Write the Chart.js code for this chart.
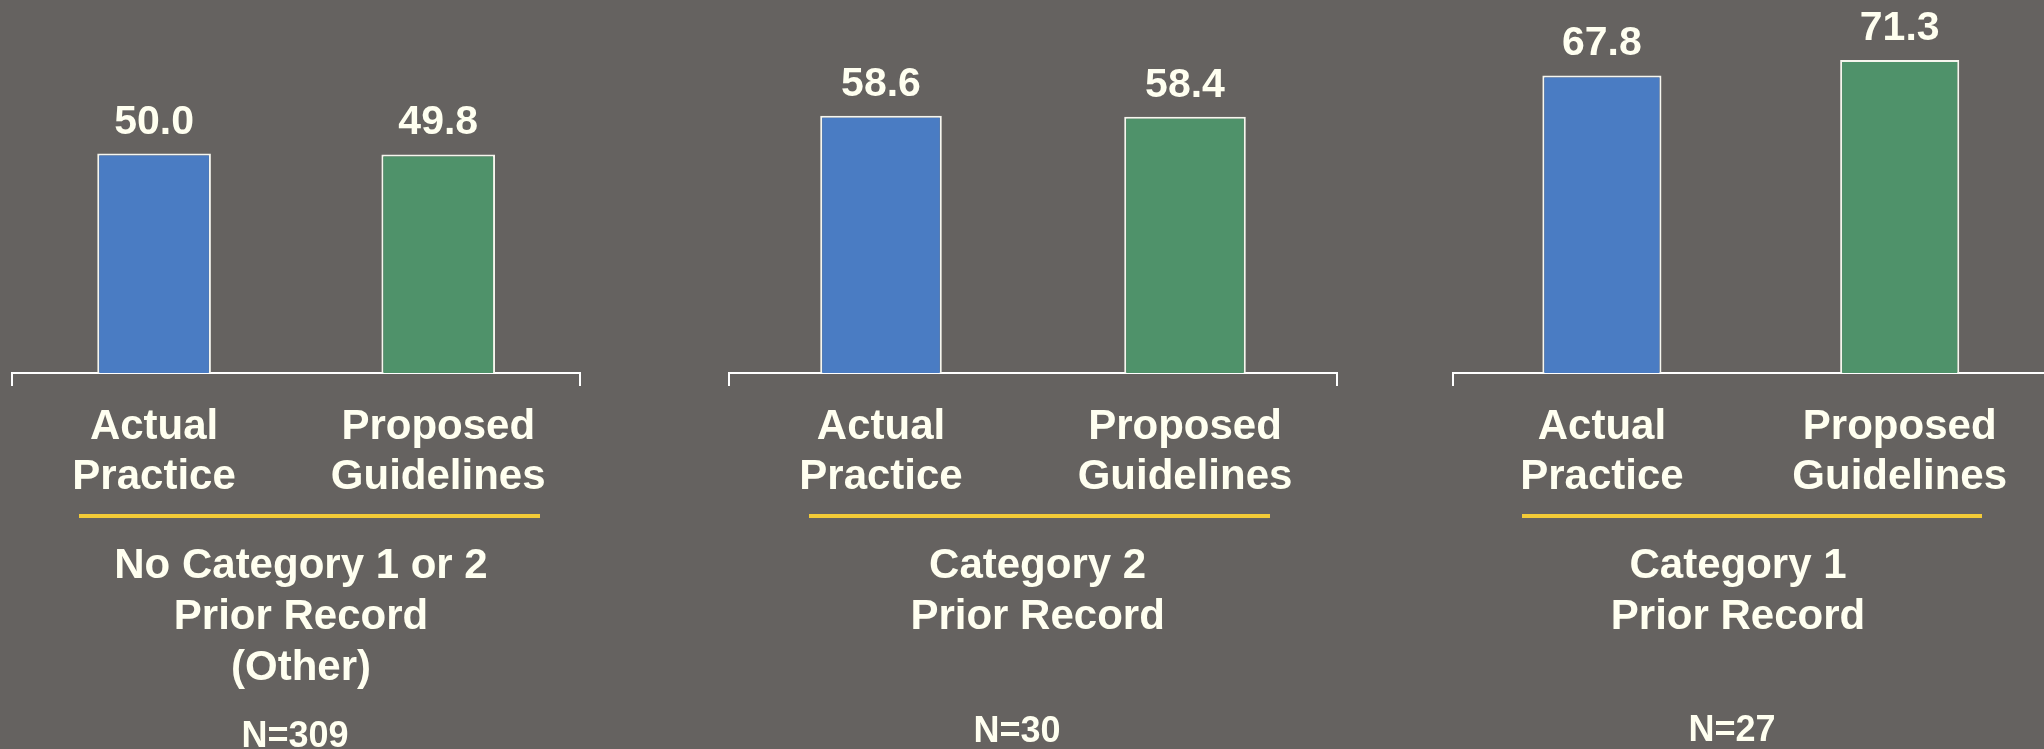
<!DOCTYPE html>
<html>
<head>
<meta charset="utf-8">
<script src="https://cdn.jsdelivr.net/npm/chart.js@4.4.1/dist/chart.umd.min.js"></script>
<style>
  html, body { margin: 0; padding: 0; background: #656260; overflow: hidden; }
  #stage { position: relative; width: 2044px; height: 749px; overflow: hidden; font-family: "Liberation Sans", Arial, sans-serif; font-weight: bold; color: #fffff0; }
  .box { position: absolute; top: 0; height: 749px; }
  .rule { position: absolute; top: 514px; height: 4px; background: #f3cb37; }
  .title { position: absolute; top: 538px; width: 600px; text-align: center; font-size: 42px; line-height: 51px; }
  .count { position: absolute; width: 300px; text-align: center; font-size: 36px; line-height: 36px; }
</style>
</head>
<body>
<div id="stage"></div>
<script>
// Data
const categories = [['Actual', 'Practice'], ['Proposed', 'Guidelines']];
const groupTitles = [
    ['No Category 1 or 2', 'Prior Record', '(Other)'],
    ['Category 2', 'Prior Record'],
    ['Category 1', 'Prior Record']
];
const groupCounts = ['N=309', 'N=30', 'N=27'];
const actualPractice = [50.0, 58.6, 67.8];
const proposedGuidelines = [49.8, 58.4, 71.3];

// Layout of the three panels (plot area edges, rule, text centres)
const panelLayout = [
    { left: 11.5, right: 579.8, ruleL: 78.5, ruleR: 539.6, titleX: 301, countX: 295, countTop: 717 },
    { left: 729, right: 1337, ruleL: 809.4, ruleR: 1270.5, titleX: 1037.6, countX: 1017, countTop: 712 },
    { left: 1452.7, right: 2048.3, ruleL: 1521.7, ruleR: 1982.4, titleX: 1738, countX: 1732, countTop: 711 }
];

const BLUE = '#4a7cc3';
const GREEN = '#4f926a';
const TEXT = '#fffff0';
const AXIS_Y = 373;
const PAD = 4;

Chart.defaults.font.family = '"Liberation Sans", Arial, sans-serif';

const valueLabels = {
    id: 'valueLabels',
    afterDatasetsDraw(chart) {
        const ctx = chart.ctx;
        const meta = chart.getDatasetMeta(0);
        ctx.save();
        ctx.font = 'bold 41px "Liberation Sans", Arial, sans-serif';
        ctx.fillStyle = TEXT;
        ctx.textAlign = 'center';
        ctx.textBaseline = 'alphabetic';
        meta.data.forEach((bar, i) => {
            const v = chart.data.datasets[0].data[i];
            ctx.fillText(v.toFixed(1), bar.x, bar.y - 20);
        });
        ctx.restore();
    }
};

const stage = document.getElementById('stage');

panelLayout.forEach((p, g) => {
    const box = document.createElement('div');
    box.className = 'box';
    box.style.left = (p.left - PAD) + 'px';
    box.style.width = (p.right - p.left + PAD * 2) + 'px';
    const canvas = document.createElement('canvas');
    box.appendChild(canvas);
    stage.appendChild(box);

    new Chart(canvas, {
        type: 'bar',
        data: {
            labels: categories,
            datasets: [{
                data: [actualPractice[g], proposedGuidelines[g]],
                backgroundColor: [BLUE, GREEN],
                borderColor: '#f6f6ee',
                borderWidth: 2,
                barPercentage: 0.4,
                categoryPercentage: 1.0
            }]
        },
        options: {
            responsive: true,
            maintainAspectRatio: false,
            animation: false,
            layout: { padding: { left: PAD, right: PAD, top: 0, bottom: 0 } },
            plugins: { legend: { display: false }, tooltip: { enabled: false } },
            scales: {
                x: {
                    grid: {
                        drawOnChartArea: false,
                        tickLength: 13,
                        lineWidth: 2,
                        color: c => c.index === 1 ? 'rgba(0,0,0,0)' : '#ffffff'
                    },
                    border: { display: true, color: '#ffffff', width: 2 },
                    ticks: {
                        color: TEXT,
                        padding: 17,
                        maxRotation: 0,
                        autoSkip: false,
                        font: { size: 42, weight: 'bold', lineHeight: 1.183 }
                    },
                    afterFit: scale => { scale.height = 749 - AXIS_Y; }
                },
                y: { display: false, min: 0, max: 85 }
            }
        },
        plugins: [valueLabels]
    });

    const rule = document.createElement('div');
    rule.className = 'rule';
    rule.style.left = p.ruleL + 'px';
    rule.style.width = (p.ruleR - p.ruleL) + 'px';
    stage.appendChild(rule);

    const title = document.createElement('div');
    title.className = 'title';
    title.style.left = (p.titleX - 300) + 'px';
    title.innerHTML = groupTitles[g].join('<br>');
    stage.appendChild(title);

    const count = document.createElement('div');
    count.className = 'count';
    count.style.left = (p.countX - 150) + 'px';
    count.style.top = p.countTop + 'px';
    count.textContent = groupCounts[g];
    stage.appendChild(count);
});
</script>
</body>
</html>
